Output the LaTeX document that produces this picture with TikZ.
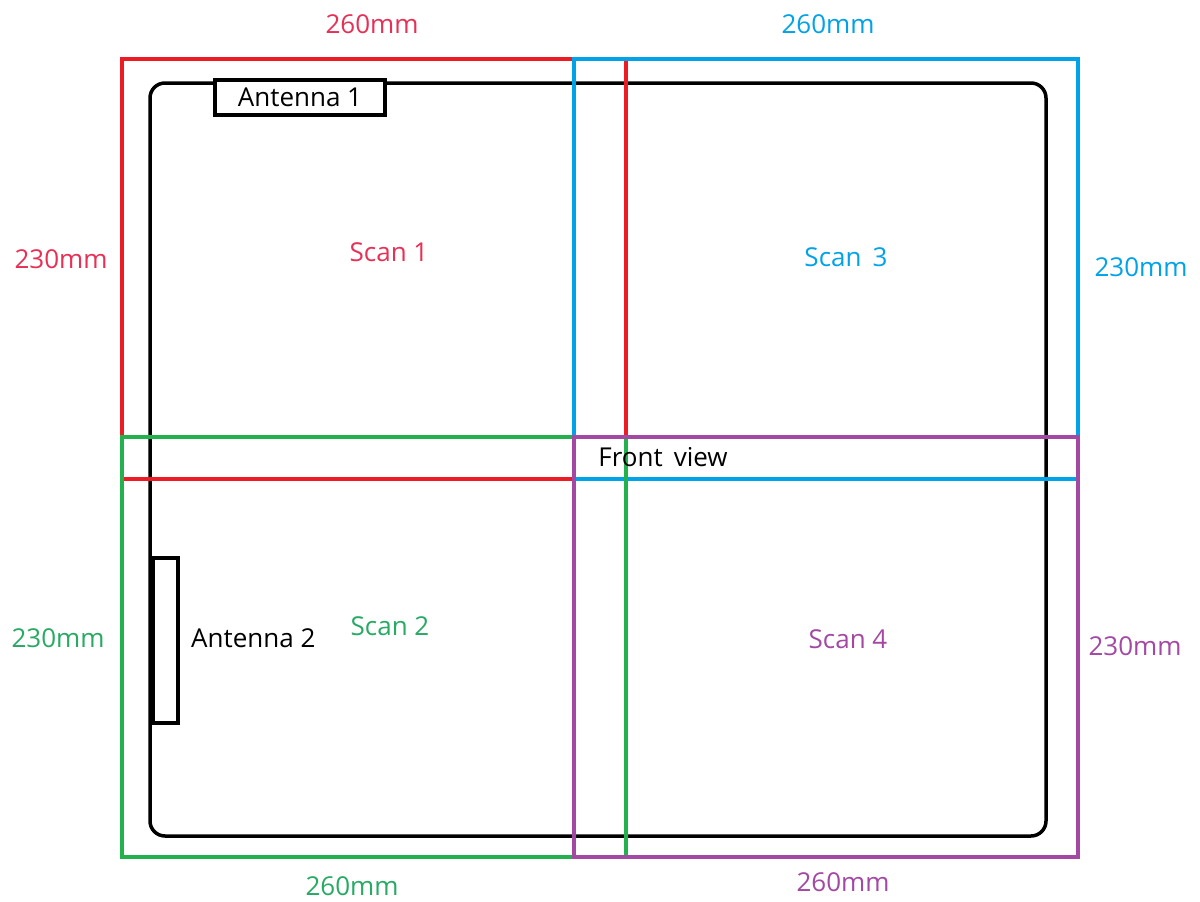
\documentclass[tikz,border=0pt]{standalone}
\usepackage{fontspec}
\setmainfont{Open Sans}
\definecolor{cred}{RGB}{237,28,36}
\definecolor{tred}{RGB}{232,48,86}
\definecolor{cblue}{RGB}{0,162,232}
\definecolor{cgreen}{RGB}{34,177,76}
\definecolor{tgreen}{RGB}{40,170,100}
\definecolor{cpurple}{RGB}{163,73,164}
\tikzset{
  scanbox/.style={line width=3.2pt},
  lbl/.style={font=\fontsize{26}{30}\selectfont, inner sep=0pt},
}
\begin{document}
\begin{tikzpicture}[x=1pt,y=-1pt]
\useasboundingbox (0,0) rectangle (1200,902);
\fill[white] (0,0) rectangle (1200,902);
% board
\draw[line width=3.5pt, rounded corners=15pt] (150,83) rectangle (1046,836);
% scan areas
\draw[scanbox, cred] (122,59) rectangle (626,479);
\draw[scanbox, cblue] (574,59) rectangle (1078,479);
\draw[scanbox, cgreen] (122,437) rectangle (626,857);
\draw[scanbox, cpurple] (574,437) rectangle (1078,857);
% antennas
\node[draw, line width=3.2pt, fill=white, minimum width=170pt, minimum height=35pt, inner sep=0pt] (ant1) at (300,97.5) {};
\node[lbl] (ant1t) at (ant1.center) {Antenna 1};
\node[draw, line width=3.2pt, fill=white, minimum width=25pt, minimum height=165pt, inner sep=0pt] (ant2) at (165.5,640.5) {};
\node[lbl, anchor=west] (ant2t) at (191,638) {Antenna 2};
% labels
\node[lbl, text=tred] (d1) at (372,24) {260mm};
\node[lbl, text=cblue] (d3) at (828,24) {260mm};
\node[lbl, text=tgreen] (d2) at (352,886) {260mm};
\node[lbl, text=cpurple] (d4) at (843,882) {260mm};
\node[lbl, text=tred] (h1) at (61,259) {230mm};
\node[lbl, text=cblue] (h3) at (1141,267) {230mm};
\node[lbl, text=tgreen] (h2) at (58,638) {230mm};
\node[lbl, text=cpurple] (h4) at (1135,646) {230mm};
\node[lbl, text=tred] (s1) at (389,252) {Scan 1};
\node[lbl, text=cblue] (s3) at (846,257) {Scan\, 3};
\node[lbl, text=tgreen] (s2) at (390,626) {Scan 2};
\node[lbl, text=cpurple] (s4) at (848,639) {Scan 4};
\node[lbl] (fv) at (663,457) {Front\, view};
\end{tikzpicture}
\end{document}
